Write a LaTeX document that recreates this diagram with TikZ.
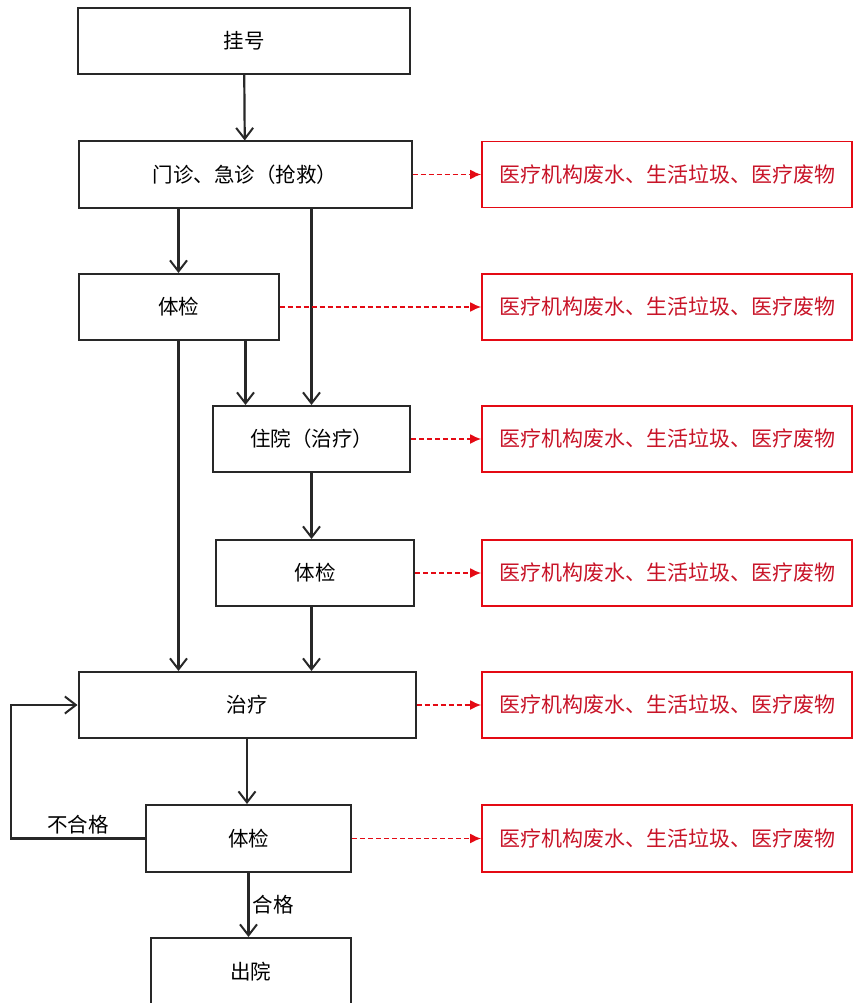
\documentclass[tikz,border=0pt]{standalone}
\usepackage{fontspec}
\setmainfont{Noto Sans CJK SC}
\usepackage{tikz}
\usetikzlibrary{arrows.meta,calc,positioning}
\definecolor{linegray}{RGB}{40,40,40}
\definecolor{wastered}{RGB}{228,10,20}
\definecolor{textred}{RGB}{200,20,40}

\tikzset{
  box/.style={draw=linegray, line width=2pt, fill=white, inner sep=0pt,
    minimum height=66pt, font=\fontsize{20.5}{24}\selectfont},
  wastebox/.style={draw=wastered, line width=1.6pt, inner sep=0pt,
    minimum width=370pt, minimum height=66pt, text=textred,
    font=\fontsize{21}{24}\selectfont},
  flow/.style={draw=linegray, line width=2.2pt,
    -{Straight Barb[length=11pt,width=17pt,line width=2pt]}},
  waste/.style={draw=wastered, line width=1.8pt, dash pattern=on 5pt off 3pt,
    -{Latex[length=11pt,width=10pt]}},
  lbl/.style={font=\fontsize{20.5}{24}\selectfont}
}

\begin{document}
\begin{tikzpicture}[x=1pt, y=-1pt]
            \useasboundingbox (0,0) rectangle (854,1003);
            \clip (0,0) rectangle (854,1003);
            % Draw the main process boxes
            \node[box, minimum width=332pt] (reg) at (244,41) {挂号};
            \node[box, minimum width=333pt] (clinic) at (245,174.5) {门诊、急诊（抢救）};
            \node[box, minimum width=200pt] (checkA) at (178.5,307) {体检};
            \node[box, minimum width=197pt] (ward) at (311.5,439) {住院（治疗）};
            \node[box, minimum width=198pt] (checkB) at (315,573) {体检};
            \node[box, minimum width=337pt] (treat) at (247,705) {治疗};
            \node[box, minimum width=205pt, minimum height=67pt] (checkC) at (248.5,838.5) {体检};
            \node[box, minimum width=200pt, minimum height=68pt] (leave) at (250.5,972) {出院};
            % Draw the waste boxes
            \node[wastebox] (wasteA) at (667,174.5) {医疗机构废水、生活垃圾、医疗废物};
            \node[wastebox] (wasteB) at (667,307) {医疗机构废水、生活垃圾、医疗废物};
            \node[wastebox] (wasteC) at (667,439) {医疗机构废水、生活垃圾、医疗废物};
            \node[wastebox] (wasteD) at (667,573) {医疗机构废水、生活垃圾、医疗废物};
            \node[wastebox] (wasteE) at (667,705) {医疗机构废水、生活垃圾、医疗废物};
            \node[wastebox, minimum height=67pt] (wasteF) at (667,838.5) {医疗机构废水、生活垃圾、医疗废物};
            % Helper point for the second input of the ward
            \coordinate (wardin) at ($(ward.north)+(-66,0)$);
            % Draw the flow arrows
            \draw[flow] (reg) -- (clinic);
            \draw[flow] (checkA.north |- clinic.south) -- (checkA.north);
            \draw[flow] (ward.north |- clinic.south) -- (ward.north);
            \draw[flow] (wardin |- checkA.south) -- (wardin);
            \draw[flow] (checkA.south) -- (checkA.south |- treat.north);
            \draw[flow] (ward.south) -- (ward.south |- checkB.north);
            \draw[flow] (ward.south |- checkB.south) -- (ward.south |- treat.north);
            \draw[flow] (treat.south) -- (treat.south |- checkC.north);
            \draw[flow] (checkC.south) -- node[right, lbl] {合格} (checkC.south |- leave.north);
            % Loop back when the check fails
            \draw[flow] (checkC.west) -- node[above, lbl] {不合格} ++(-134,0) |- (treat.west);
            % Draw the waste arrows
            \draw[waste] (clinic.east) -- (wasteA.west);
            \draw[waste] (checkA.east) -- (wasteB.west);
            \draw[waste] (ward.east) -- (wasteC.west);
            \draw[waste] (checkB.east) -- (wasteD.west);
            \draw[waste] (treat.east) -- (wasteE.west);
            \draw[waste] (checkC.east) -- (wasteF.west);
          \end{tikzpicture}
\end{document}
